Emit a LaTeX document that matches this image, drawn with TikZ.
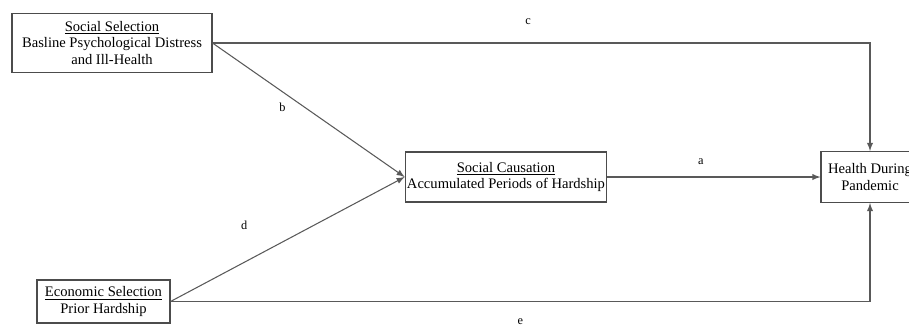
\documentclass[tikz,border=0pt]{standalone}
\usepackage{fontspec}
\setmainfont{Liberation Serif}
\usetikzlibrary{positioning, calc, arrows}

\begin{document}
\begin{tikzpicture}[x=0.02cm, y=-0.02cm, >=latex, font=\fontsize{8.3}{9.6}\selectfont,
   var/.style={draw=black!70, line width=0.6pt, align=center, inner sep=1pt},
   path/.style={draw=black!65, line width=0.6pt, ->},
   lbl/.style={font=\fontsize{7}{8}\selectfont}]
   \useasboundingbox (0,0) rectangle (909,326);

   \node[var, minimum width=4cm, minimum height=1.18cm] (sel) at (112,43)
      {\underline{Social Selection}\\Basline Psychological Distress\\and Ill-Health};
   \node[var, minimum width=3.96cm, minimum height=1cm] (caus) at (506,177)
      {\underline{Social Causation}\\Accumulated Periods of Hardship};
   \node[var, minimum width=1.96cm, minimum height=1.02cm] (health) at (870,177)
      {Health During\\Pandemic};
   \node[var, minimum width=2.66cm, minimum height=0.86cm] (econ) at (103.5,301.5)
      {\underline{Economic Selection}\\Prior Hardship};

   \path[path] (sel.east) -| (health.north) node[lbl, pos=0.24, above=7pt] {c};
   \path[path] (sel.east) -- (caus.west) node[lbl, pos=0.37, below left=3pt, xshift=0.24cm] {b};
   \path[path] (econ.east) -- (caus.west) node[lbl, pos=0.3, above left=16pt and 4pt, xshift=0.4cm] {d};
   \path[path] (caus.east) -- (health.west) node[lbl, midway, above=3.5pt, xshift=-0.26cm] {a};
   \path[path] (econ.east) -| (health.south) node[lbl, pos=0.25, below=6pt] {e};
\end{tikzpicture}
\end{document}
